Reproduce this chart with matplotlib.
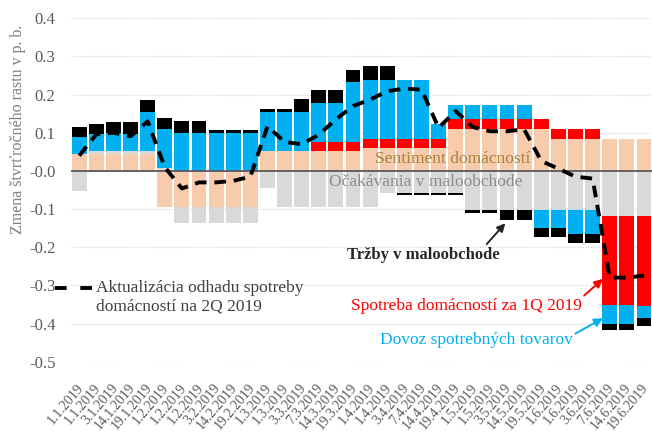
import numpy as np
import matplotlib.pyplot as plt
import matplotlib.transforms as mtransforms
from matplotlib.lines import Line2D

# dates of the forecast updates (x-axis)
dates = ['1.1.2019', '1.1.2019', '3.1.2019', '14.1.2019', '19.1.2019',
         '1.2.2019', '1.2.2019', '1.2.2019', '3.2.2019', '14.2.2019', '19.2.2019',
         '1.3.2019', '1.3.2019', '3.3.2019', '7.3.2019', '14.3.2019', '19.3.2019',
         '1.4.2019', '1.4.2019', '3.4.2019', '7.4.2019', '14.4.2019', '19.4.2019',
         '1.5.2019', '1.5.2019', '3.5.2019', '14.5.2019', '19.5.2019',
         '1.6.2019', '1.6.2019', '3.6.2019', '7.6.2019', '14.6.2019', '19.6.2019']

# contributions (p. b.)
sentiment = [0.045] * 5 + [-0.094] * 6 + [0.052] * 6 + [0.059] * 5 + [0.111] * 6 + [0.085] * 6
ocakavania = ([-0.052, 0.007, 0.007, 0.007, 0.007, 0.008] + [-0.043] * 5 + [-0.045]
              + [-0.094] * 6 + [-0.058] * 5 + [-0.103] * 8 + [-0.117] * 3)
spotreba = [0.0] * 14 + [0.025] * 8 + [0.024] * 9 + [-0.235, -0.235, -0.238]
dovoz = ([0.045, 0.046, 0.048, 0.046, 0.102, 0.102, 0.1, 0.1, 0.1, 0.1, 0.1,
          0.103, 0.103, 0.102, 0.101, 0.101, 0.155, 0.155, 0.155, 0.155, 0.155]
         + [0.039] * 6 + [-0.047, -0.047, -0.061, -0.061, -0.048, -0.048, -0.03])
trzby = ([0.025, 0.024, 0.029, 0.031, 0.031, 0.029, 0.03, 0.03, 0.007, 0.007, 0.008,
          0.008, 0.008, 0.035, 0.035, 0.035, 0.033, 0.035, 0.035]
         + [-0.006] * 6 + [-0.026, -0.026, -0.024, -0.024, -0.026, -0.026, -0.018, -0.018, -0.022])
odhad = [0.04, 0.096, 0.1, 0.091, 0.13, 0.01, -0.046, -0.03, -0.03, -0.026, -0.015,
         0.117, 0.076, 0.07, 0.095, 0.135, 0.17, 0.187, 0.209, 0.216, 0.213, 0.113,
         0.157, 0.115, 0.104, 0.104, 0.109, 0.026, 0.006, -0.015, -0.02, -0.279, -0.28, -0.274]

series = [(sentiment, '#F8CBAD'), (ocakavania, '#D9D9D9'), (spotreba, '#FF0000'),
          (dovoz, '#00B0F0'), (trzby, '#000000')]

plt.rcParams['font.family'] = ['Liberation Serif', 'DejaVu Serif']

fig = plt.figure(figsize=(6.52, 4.32), dpi=100)
ax = fig.add_axes([0.1084, 0.1627, 0.8916, 0.7949])

x = np.arange(len(dates))
pos = np.zeros(len(dates))
neg = np.zeros(len(dates))
for vals, col in series:
    v = np.array(vals)
    base = np.where(v >= 0, pos, neg)
    ax.bar(x, v, bottom=base, width=0.87, color=col, zorder=2, linewidth=0)
    pos += np.where(v >= 0, v, 0)
    neg += np.where(v < 0, v, 0)

ax.axhline(0, color='#595959', lw=1.3, zorder=3)
ax.plot(x, odhad, color='black', lw=2.8, dashes=(3, 2), zorder=4)

ax.set_xlim(-0.5, 33.47)
ax.set_ylim(-0.5, 0.4)
ax.set_yticks(np.arange(-0.5, 0.41, 0.1))
ax.set_yticklabels([f'{t:.1f}' for t in np.arange(-0.5, 0.41, 0.1)])
ax.yaxis.grid(True, color='#D0D0D0', linestyle=(0, (1, 1.5)), lw=0.8, zorder=0)
ax.set_axisbelow(True)
for s in ax.spines.values():
    s.set_visible(False)
ax.tick_params(axis='y', length=0, pad=11, labelsize=12, labelcolor='#595959')
ax.set_xticks(x)
ax.set_xticklabels(dates, rotation=50, ha='right', va='top', rotation_mode='anchor')
ax.tick_params(axis='x', length=0, pad=14, labelsize=10, labelcolor='#595959')
shift = mtransforms.ScaledTranslation(-3 / 100, 0, fig.dpi_scale_trans)
for lab in ax.get_xticklabels():
    lab.set_transform(lab.get_transform() + shift)

fig.text(0.028, 0.70, 'Zmena štvrťročného rastu v p. b.', rotation=90,
         ha='center', va='center', fontsize=11.5, color='#7F7F7F')

# labels inside the chart
ax.text(21.8, 0.031, 'Sentiment domácností', ha='center', va='center',
        fontsize=12.5, color='#A6813F', zorder=5)
ax.text(20.25, -0.029, 'Očakávania v maloobchode', ha='center', va='center',
        fontsize=12.5, color='#8C8C8C', zorder=5)
ax.annotate('Tržby v maloobchode', xy=(24.9, -0.137), xytext=(20.1, -0.22),
            ha='center', va='center', fontsize=12, fontweight='bold', color='#262626',
            arrowprops=dict(arrowstyle='-|>', color='#262626', lw=1.4,
                            shrinkA=0, shrinkB=0, relpos=(0.9, 1.0)))
ax.annotate('Spotreba domácností za 1Q 2019', xy=(30.6, -0.283), xytext=(22.6, -0.354),
            ha='center', va='center', fontsize=12.5, color='#FF0000',
            arrowprops=dict(arrowstyle='-|>', color='#FF0000', lw=1.4,
                            shrinkA=0, shrinkB=0, relpos=(1.0, 1.0)))
ax.annotate('Dovoz spotrebných tovarov', xy=(30.6, -0.386), xytext=(23.2, -0.443),
            ha='center', va='center', fontsize=12.5, color='#00B0F0',
            arrowprops=dict(arrowstyle='-|>', color='#00B0F0', lw=1.4,
                            shrinkA=0, shrinkB=0, relpos=(1.0, 0.8)))

# legend for the dashed line
ax.add_line(Line2D([-0.027, 0.0366], [0.2146, 0.2146], transform=ax.transAxes,
                   color='black', lw=2.8, dashes=(3, 3.5), clip_on=False))
ax.text(0.0434, 0.238, 'Aktualizácia odhadu spotreby\ndomácností na 2Q 2019',
        transform=ax.transAxes, ha='left', va='top', fontsize=12.5,
        color='#404040', linespacing=1.2)

fig.savefig('out.png', dpi=100)
